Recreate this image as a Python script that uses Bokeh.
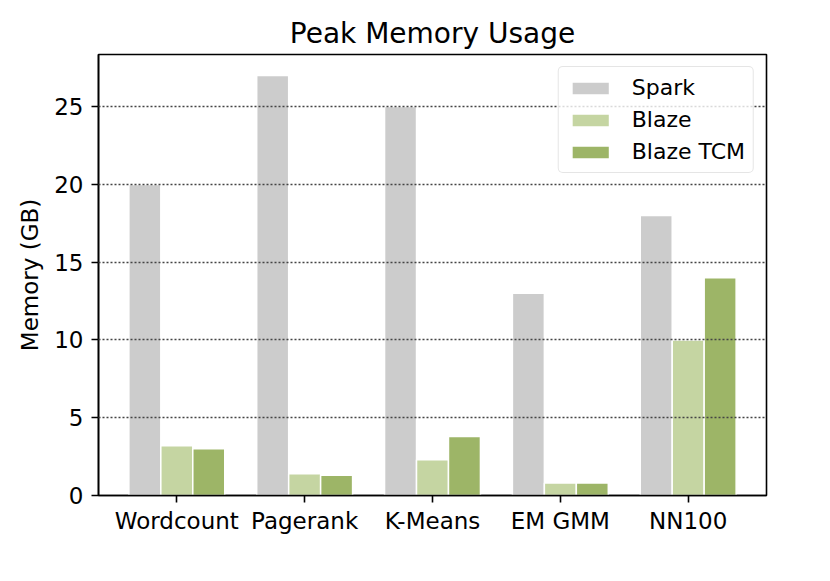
from bokeh.plotting import figure
from bokeh.models import ColumnDataSource, Range1d, FixedTicker
from bokeh.transform import dodge
from bokeh.embed import file_html
from bokeh.resources import INLINE

categories = ["Wordcount", "Pagerank", "K-Means", "EM GMM", "NN100"]
spark = [20, 27, 25, 13, 18]
blaze = [3.2, 1.4, 2.3, 0.8, 10]
blaze_tcm = [3.0, 1.3, 3.8, 0.8, 14]
y_ticks = [0, 5, 10, 15, 20, 25]

xs = list(range(len(categories)))
src = ColumnDataSource(dict(x=xs, spark=spark, blaze=blaze, tcm=blaze_tcm))

FONT = "DejaVu Sans"

p = figure(width=814, height=565, output_backend="svg", toolbar_location=None,
           x_range=Range1d(-0.6125, 4.6125), y_range=Range1d(0, 28.35),
           min_border_left=98, min_border_right=48, min_border_top=54,
           min_border_bottom=70, title="Peak Memory Usage")

p.title.align = "center"
p.title.text_font = FONT
p.title.text_font_size = "28px"
p.title.text_font_style = "normal"
p.title.text_color = "black"

colors = ["#cccccc", "#c5d5a2", "#9db567"]
series = [("spark", "Spark", -0.25), ("blaze", "Blaze", 0.0), ("tcm", "Blaze TCM", 0.25)]
for (col, label, off), c in zip(series, colors):
    p.vbar(x=dodge("x", off, range=p.x_range), top=col, width=0.25, source=src,
           fill_color=c, line_color="white", line_width=1.5, legend_label=label)

p.xgrid.visible = False
p.ygrid.grid_line_color = "#444444"
p.ygrid.grid_line_dash = "2 2"
p.ygrid.grid_line_width = 1.3
p.ygrid.level = "annotation"

p.outline_line_color = "black"
p.outline_line_width = 1.6

p.xaxis.ticker = FixedTicker(ticks=xs)
p.xaxis.major_label_overrides = {i: c for i, c in enumerate(categories)}
p.yaxis.ticker = FixedTicker(ticks=y_ticks)
p.yaxis.axis_label = "Memory (GB)"

for ax in (p.xaxis[0], p.yaxis[0]):
    ax.axis_line_color = "black"
    ax.axis_line_width = 1.6
    ax.major_tick_line_color = "black"
    ax.major_tick_line_width = 1.6
    ax.major_tick_out = 7
    ax.major_tick_in = 0
    ax.minor_tick_line_color = None
    ax.major_label_text_font = FONT
    ax.major_label_text_font_size = "23px"
    ax.major_label_text_color = "black"
    ax.axis_label_text_font = FONT
    ax.axis_label_text_font_size = "23px"
    ax.axis_label_text_font_style = "normal"
    ax.axis_label_text_color = "black"
p.xaxis.major_label_standoff = 5
p.yaxis.major_label_standoff = 8
p.yaxis.axis_label_standoff = 8

lg = p.legend[0]
lg.location = "top_right"
lg.margin = 12
lg.padding = 8
lg.spacing = 7
lg.glyph_width = 47
lg.glyph_height = 16
lg.label_standoff = 18
lg.label_height = 22
lg.label_text_font = FONT
lg.label_text_font_size = "22px"
lg.label_text_color = "black"
lg.border_line_color = "#cccccc"
lg.border_line_width = 1.5
lg.border_radius = 5
lg.background_fill_alpha = 0.8

open("out.html", "w").write(file_html(p, INLINE))
